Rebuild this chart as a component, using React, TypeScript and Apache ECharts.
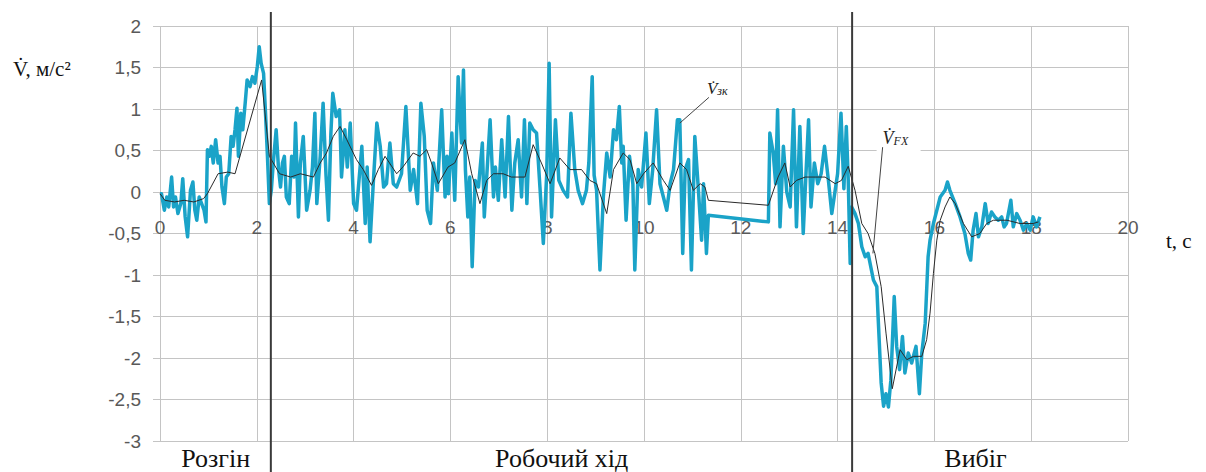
import React, { useEffect, useRef } from 'react';
import * as echarts from 'echarts';

// Measured acceleration (thick cyan), by phase: [t, s; dV/dt, m/s²]
const measuredRozgin: [number, number][] = [
  [0, -0.02], [0.03, -0.02], [0.09, -0.22], [0.14, -0.06], [0.18, -0.18], [0.24, 0.18], [0.28, -0.18],
  [0.32, -0.06], [0.37, -0.26], [0.43, -0.14], [0.47, 0.16], [0.52, -0.3], [0.57, -0.54], [0.63, 0.02],
  [0.68, 0.12], [0.72, -0.22], [0.76, -0.34], [0.81, -0.06], [0.86, -0.14], [0.91, -0.22], [0.95, -0.36],
  [0.98, 0.51], [1.02, 0.43], [1.06, 0.55], [1.1, 0.35], [1.15, 0.63], [1.2, 0.35], [1.24, 0.43],
  [1.28, 0.06], [1.33, -0.14], [1.37, 0.18], [1.42, 0.22], [1.47, 0.67], [1.51, 0.55], [1.55, 0.75],
  [1.59, 1.01], [1.62, 0.43], [1.67, 0.95], [1.71, 0.75], [1.76, 1.07], [1.8, 1.35], [1.86, 1.27],
  [1.91, 1.39], [1.96, 1.31], [2.01, 1.51], [2.05, 1.75], [2.09, 1.55], [2.14, 1.43], [2.18, 0.95],
  [2.22, 0.43], [2.26, -0.14],
];
const measuredRobochyi: [number, number][] = [
  [2.3, 0.02], [2.34, 0.35], [2.4, 0.75], [2.45, 0.27], [2.49, 0.06], [2.53, 0.35], [2.57, 0.43],
  [2.61, -0.06], [2.67, -0.14], [2.72, 0.43], [2.77, 0.18], [2.8, 0.83], [2.86, -0.3], [2.9, 0.35],
  [2.96, 0.67], [3.03, -0.22], [3.1, 0.02], [3.15, 0.3], [3.2, 0.95], [3.24, -0.14], [3.31, 0.43],
  [3.37, 1.07], [3.43, 0.2], [3.48, -0.34], [3.53, 0.7], [3.57, 1.19], [3.64, 0.91], [3.71, 0.99],
  [3.75, 0.18], [3.82, 0.75], [3.87, 0.3], [3.93, 0.83], [4.0, -0.14], [4.06, -0.22], [4.12, 0.2],
  [4.17, 0.55], [4.24, -0.38], [4.28, 0.3], [4.34, -0.6], [4.41, 0.14], [4.48, 0.83], [4.55, 0.55],
  [4.62, 0.06], [4.68, 0.1], [4.75, 0.59], [4.82, 0.1], [4.89, 0.06], [4.99, 0.22], [5.08, 1.03],
  [5.17, 0.02], [5.24, 0.27], [5.32, -0.14], [5.39, 1.07], [5.46, 0.67], [5.52, -0.22], [5.59, -0.38],
  [5.65, 0.35], [5.73, 0.02], [5.82, 0.99], [5.89, -0.06], [5.93, 0.43], [5.96, -0.02], [6.03, 0.71],
  [6.09, -0.1], [6.16, 1.39], [6.23, 0.59], [6.27, 1.47], [6.31, 0.27], [6.36, -0.3], [6.4, 0.18],
  [6.45, -0.9], [6.51, 0.14], [6.58, 0.06], [6.66, 0.59], [6.7, -0.3], [6.75, 0.18], [6.82, 0.87],
  [6.89, -0.06], [6.93, 0.3], [6.99, -0.1], [7.06, 0.63], [7.13, -0.06], [7.2, 0.91], [7.27, -0.22],
  [7.33, 0.35], [7.4, 0.63], [7.47, -0.06], [7.53, 0.87], [7.58, -0.14], [7.64, 0.83], [7.71, 0.75],
  [7.78, 0.71], [7.85, 0.06], [7.92, -0.62], [7.99, 0.22], [8.04, 1.55], [8.09, -0.3], [8.17, 0.87],
  [8.24, 0.14], [8.33, 0.02], [8.42, -0.06], [8.49, 0.95], [8.57, 0.27], [8.64, 0.02], [8.73, -0.14],
  [8.81, 0.02], [8.86, 0.35], [8.93, 1.39], [8.97, 0.2], [9.02, 0.02], [9.09, -0.94], [9.16, -0.06],
  [9.23, 0.47], [9.3, 0.18], [9.37, 0.75], [9.43, 0.63], [9.49, 1.03], [9.54, 0.35], [9.57, 0.55],
  [9.63, -0.34], [9.7, 0.43], [9.77, 0.1], [9.81, -0.94], [9.88, 0.27], [9.95, 0.06], [10.04, 0.71],
  [10.11, -0.14], [10.18, 0.27], [10.26, 0.99], [10.33, 0.1], [10.4, -0.06], [10.47, -0.22], [10.54, 0.1],
  [10.61, 0.27], [10.69, 0.87], [10.74, 0.87], [10.8, -0.74], [10.85, 0.27], [10.92, 0.39], [10.98, -0.94],
  [11.05, 0.67], [11.12, 0.06], [11.19, -0.58], [11.23, 0.1], [11.29, -0.74], [11.33, -0.28], [12.57, -0.36],
  [12.6, 0.71], [12.67, 0.47], [12.72, 0.1], [12.76, 0.99], [12.81, -0.42], [12.88, 0.55], [12.95, 0],
  [13.02, -0.18], [13.09, 0.99], [13.15, -0.42], [13.22, 0.79], [13.29, -0.5], [13.34, 0.14], [13.4, 0.87],
  [13.45, -0.18], [13.52, 0.35], [13.59, 0.1], [13.66, 0.22], [13.73, 0.55], [13.81, 0.14], [13.88, -0.26],
  [13.95, 0.02], [14.0, 0.22], [14.07, 0.95], [14.13, 0.04], [14.18, 0.79], [14.22, 0.14], [14.26, -0.86],
];
const measuredVybig: [number, number][] = [
  [14.29, -0.18], [14.36, -0.26], [14.43, -0.38], [14.5, -0.66], [14.57, -0.78], [14.63, -0.74],
  [14.74, -1.06], [14.81, -1.14], [14.84, -1.54], [14.9, -2.3], [14.95, -2.58], [15.0, -2.43],
  [15.05, -2.59], [15.1, -2.27], [15.17, -1.26], [15.22, -1.86], [15.28, -2.14], [15.34, -1.74],
  [15.39, -2.18], [15.46, -1.94], [15.53, -2.06], [15.62, -1.86], [15.69, -2.43], [15.74, -1.94],
  [15.81, -1.58], [15.87, -0.78], [15.91, -0.58], [15.98, -0.38], [16.05, -0.22], [16.12, -0.06],
  [16.22, 0.02], [16.27, 0.12], [16.32, 0.02], [16.43, -0.14], [16.53, -0.3], [16.63, -0.5],
  [16.7, -0.74], [16.75, -0.82], [16.8, -0.46], [16.86, -0.26], [16.91, -0.54], [16.98, -0.42],
  [17.05, -0.14], [17.11, -0.38], [17.18, -0.24], [17.25, -0.3], [17.32, -0.34], [17.39, -0.3],
  [17.44, -0.42], [17.49, -0.38], [17.58, -0.1], [17.63, -0.42], [17.7, -0.26], [17.77, -0.34],
  [17.84, -0.46], [17.91, -0.38], [17.98, -0.46], [18.04, -0.3], [18.11, -0.42], [18.18, -0.3],
];

// Smoothed acceleration V̇FX (thin black), by phase
const smoothRozgin: [number, number][] = [
  [0, -0.02], [0.1, -0.1], [0.3, -0.12], [0.5, -0.1], [0.7, -0.12], [0.9, -0.08], [0.98, -0.02],
  [1.2, 0.22], [1.4, 0.24], [1.55, 0.22], [2.1, 1.35], [2.26, 0.43],
];
const smoothRobochyi: [number, number][] = [
  [2.47, 0.22], [2.7, 0.18], [2.9, 0.22], [3.17, 0.18], [3.31, 0.35], [3.44, 0.47], [3.58, 0.67],
  [3.72, 0.79], [3.86, 0.63], [4.06, 0.39], [4.2, 0.27], [4.37, 0.08], [4.51, 0.27], [4.65, 0.43],
  [4.89, 0.22], [5.03, 0.31], [5.23, 0.47], [5.37, 0.43], [5.51, 0.51], [5.61, 0.35], [5.75, 0.1],
  [5.95, 0.3], [6.09, 0.35], [6.3, 0.63], [6.44, 0.22], [6.61, -0.14], [6.75, 0.14], [6.89, 0.22],
  [7.09, 0.22], [7.26, 0.18], [7.54, 0.18], [7.71, 0.57], [7.88, 0.35], [8.06, 0.1], [8.26, 0.41],
  [8.47, 0.27], [8.71, 0.27], [8.88, 0.14], [9.02, 0.1], [9.23, -0.26], [9.37, 0.27], [9.57, 0.47],
  [9.71, 0.39], [9.85, 0.1], [9.99, 0.22], [10.19, 0.35], [10.4, 0.14], [10.54, 0.02], [10.74, 0.35],
  [10.88, 0.27], [11.02, 0.02], [11.16, 0.1], [11.26, 0.06], [11.33, -0.1], [12.57, -0.16], [12.77, 0.18],
  [12.91, 0.35], [13.02, 0.06], [13.15, 0.14], [13.33, 0.18], [13.54, 0.18], [13.74, 0.18], [13.95, 0.1],
  [14.08, 0.14], [14.22, 0.31],
];
const smoothVybig: [number, number][] = [
  [14.36, 0.02], [14.5, -0.38], [14.63, -0.5], [14.77, -0.74], [14.9, -1.14], [15.0, -1.7], [15.13, -2.37],
  [15.29, -1.9], [15.43, -2.02], [15.57, -1.98], [15.74, -1.98], [15.84, -1.78], [15.91, -1.46],
  [15.98, -0.98], [16.05, -0.58], [16.12, -0.34], [16.22, -0.18], [16.32, -0.06], [16.43, -0.14],
  [16.6, -0.38], [16.77, -0.54], [16.94, -0.5], [17.08, -0.38], [17.22, -0.34], [17.5, -0.34],
  [17.77, -0.38], [18.04, -0.38], [18.15, -0.36],
];

const phaseBoundaries = [2.29, 14.3];
const phaseNames = ['Розгін', 'Робочий хід', 'Вибіг'];
const phaseLabelT = [1.15, 8.3, 16.85];

// annotation anchors in data units: [point on curve, label position]
const zkAnchor: [number, number] = [10.74, 0.83];
const zkLabel: [number, number] = [11.3, 1.14];
const fxAnchor: [number, number] = [14.73, -0.74];
const fxLabel: [number, number] = [14.93, 0.54];

const SERIF = '"Liberation Serif", "Times New Roman", serif';
const SANS = '"Liberation Sans", Arial, sans-serif';
const GRID = '#c4c4c4';

// layout
const GRID_TOP = 26;
const GRID_BOTTOM = 31;
const HEIGHT = 472;
const X_LABEL_CENTER_Y = 227;
const X_LABEL_FONT = 19;

export default function App() {
  const ref = useRef<HTMLDivElement>(null);
  useEffect(() => {
    const chart = echarts.init(ref.current!, null, { renderer: 'svg' });
    const gridBottomY = HEIGHT - GRID_BOTTOM;
    chart.setOption({
      animation: false,
      backgroundColor: '#ffffff',
      grid: { left: 160, right: 78, top: GRID_TOP, bottom: GRID_BOTTOM },
      xAxis: {
        type: 'value',
        min: 0,
        max: 20,
        interval: 2,
        axisLine: { show: false, onZero: false },
        axisTick: { show: false },
        splitLine: { show: true, lineStyle: { color: GRID, width: 1 } },
        axisLabel: {
          color: '#595959',
          fontSize: X_LABEL_FONT,
          fontFamily: SANS,
          margin: X_LABEL_CENTER_Y - X_LABEL_FONT / 2 - gridBottomY,
        },
      },
      yAxis: {
        type: 'value',
        min: -3,
        max: 2,
        interval: 0.5,
        axisLine: { show: false, onZero: false },
        axisTick: { show: true, length: 7, lineStyle: { color: GRID } },
        splitLine: { show: true, lineStyle: { color: GRID, width: 1 } },
        axisLabel: {
          color: '#595959',
          fontSize: 19,
          fontFamily: SANS,
          margin: 19,
          formatter: (v: number) => String(v).replace('.', ','),
        },
      },
      series: [
        {
          name: 'V̇зк',
          type: 'line',
          data: [...measuredRozgin, ...measuredRobochyi, ...measuredVybig],
          showSymbol: false,
          symbol: 'none',
          lineStyle: { color: '#1aa3c8', width: 3.5, join: 'round' },
          z: 2,
        },
        {
          name: 'V̇FX',
          type: 'line',
          data: [...smoothRozgin, ...smoothRobochyi, ...smoothVybig],
          showSymbol: false,
          symbol: 'none',
          lineStyle: { color: '#2a2a2a', width: 1 },
          z: 3,
        },
      ],
    });

    const px = (p: [number, number]) => chart.convertToPixel({ gridIndex: 0 }, p) as number[];
    const g: any[] = [];
    phaseBoundaries.forEach((t) => {
      const [x] = px([t, 0]);
      g.push({
        type: 'line',
        z: 100,
        shape: { x1: x, y1: 12, x2: x, y2: 472 },
        style: { stroke: '#3a3a3a', lineWidth: 2 },
      });
    });
    phaseNames.forEach((name, i) => {
      const [x] = px([phaseLabelT[i], 0]);
      g.push({
        type: 'text',
        z: 100,
        style: {
          text: name,
          x,
          y: 458,
          align: 'center',
          verticalAlign: 'middle',
          fontFamily: SERIF,
          fontSize: 26,
          fill: '#111',
        },
      });
    });
    g.push({
      type: 'text',
      z: 100,
      style: {
        text: 'V\u0307, м/с²',
        x: 13,
        y: 69,
        align: 'left',
        verticalAlign: 'middle',
        fontFamily: SERIF,
        fontSize: 21,
        fill: '#111',
      },
    });
    g.push({
      type: 'text',
      z: 100,
      style: {
        text: 't, c',
        x: 1166,
        y: 241,
        align: 'left',
        verticalAlign: 'middle',
        fontFamily: SERIF,
        fontSize: 21,
        fill: '#111',
      },
    });
    // V̇зк annotation
    const za = px(zkAnchor);
    const zl = px(zkLabel);
    g.push({
      type: 'line',
      z: 100,
      shape: { x1: za[0], y1: za[1], x2: zl[0] + 2, y2: zl[1] },
      style: { stroke: '#444', lineWidth: 1 },
    });
    g.push({
      type: 'text',
      z: 101,
      style: {
        text: '{v|V\u0307}{s|зк}',
        x: zl[0],
        y: zl[1],
        align: 'left',
        verticalAlign: 'bottom',
        rich: {
          v: { fontFamily: SERIF, fontStyle: 'italic', fontSize: 17, fill: '#222', verticalAlign: 'bottom' },
          s: { fontFamily: SERIF, fontStyle: 'italic', fontSize: 12, fill: '#222', verticalAlign: 'bottom' },
        },
      },
    });
    // V̇FX annotation
    const fa = px(fxAnchor);
    const fl = px(fxLabel);
    g.push({
      type: 'rect',
      z: 99,
      shape: { x: fl[0] - 6, y: fl[1] - 30, width: 44, height: 36 },
      style: { fill: '#ffffff' },
    });
    g.push({
      type: 'line',
      z: 100,
      shape: { x1: fa[0], y1: fa[1], x2: fl[0], y2: fl[1] },
      style: { stroke: '#444', lineWidth: 1 },
    });
    g.push({
      type: 'text',
      z: 101,
      style: {
        text: '{v|V\u0307}{s|FX}',
        x: fl[0],
        y: fl[1],
        align: 'left',
        verticalAlign: 'bottom',
        rich: {
          v: { fontFamily: SERIF, fontStyle: 'italic', fontSize: 18, fill: '#222', verticalAlign: 'bottom' },
          s: { fontFamily: SERIF, fontStyle: 'italic', fontSize: 12, fill: '#222', verticalAlign: 'bottom' },
        },
      },
    });
    chart.setOption({ graphic: g });
    return () => chart.dispose();
  }, []);
  return (
    <div
      ref={ref}
      style={{ position: 'absolute', left: 0, top: 0, width: 1206, height: 472, background: '#fff' }}
    />
  );
}
